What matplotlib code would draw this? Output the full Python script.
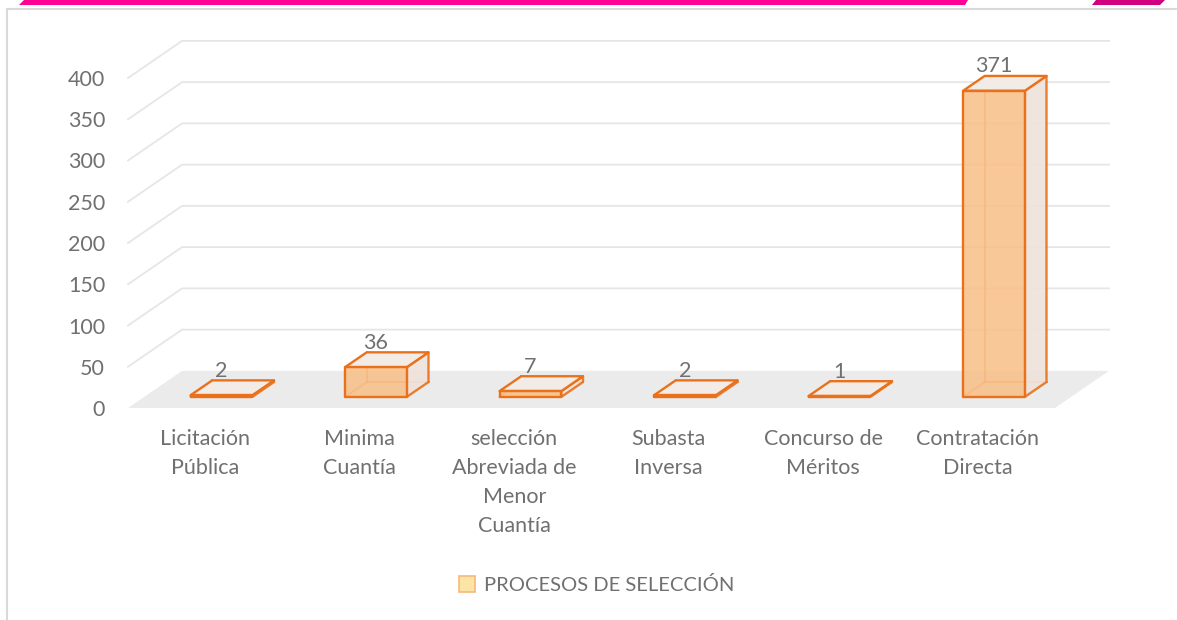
import matplotlib
matplotlib.use('Agg')
import matplotlib.pyplot as plt
from matplotlib.patches import Polygon, Patch

plt.rcParams['font.family'] = ['Lato', 'DejaVu Sans']

# Datos
categorias = ['Licitación\nPública', 'Minima\nCuantía', 'selección\nAbreviada de\nMenor\nCuantía',
              'Subasta\nInversa', 'Concurso de\nMéritos', 'Contratación\nDirecta']
procesos = [2, 36, 7, 2, 1, 371]
yticks = [0, 50, 100, 150, 200, 250, 300, 350, 400]
serie = 'PROCESOS DE SELECCIÓN'

# Estilo
texto = '#707070'
borde = '#E9711C'
frente = '#F9BF86'
lado = '#EFE3DB'
tapa = '#F3EBE6'
piso = '#EBEBEB'
rejilla = '#E6E6E6'

# Proyeccion oblicua: desplazamiento de profundidad en unidades de datos
DX, DY = 0.35, 45.0
Z0, Z1 = 0.3, 0.7
ANCHO = 0.4


def P(x, y, z):
    return (x + DX * z, y + DY * z)


fig = plt.figure(figsize=(11.77, 6.20), dpi=100)
W, H = 1177, 620

# Marco de la pagina
fig.add_artist(plt.Line2D([7 / W, 7 / W], [0, 1 - 9 / H], color='#D9D9D9', lw=1.5))
fig.add_artist(plt.Line2D([7 / W, 1], [1 - 9 / H, 1 - 9 / H], color='#D9D9D9', lw=1.5))
fig.add_artist(Polygon([(19 / W, 1 - 5 / H), (24 / W, 1), (968 / W, 1), (965 / W, 1 - 5 / H)],
                       closed=True, transform=fig.transFigure, color='#FF0096', lw=0))
fig.add_artist(Polygon([(1092 / W, 1 - 5 / H), (1096 / W, 1), (1165 / W, 1), (1160 / W, 1 - 5 / H)],
                       closed=True, transform=fig.transFigure, color='#D1007E', lw=0))

xmax, ymax = 6.4, 460
ax = fig.add_axes([128 / W, (620 - 408) / H, 154.5 * xmax / W, 0.825 * ymax / H])
ax.set_xlim(0, xmax)
ax.set_ylim(0, ymax)
for s in ax.spines.values():
    s.set_visible(False)

n = len(categorias)

# Piso
ax.add_patch(Polygon([P(0, 0, 0), P(n, 0, 0), P(n, 0, 1), P(0, 0, 1)], closed=True,
                     facecolor=piso, edgecolor='none', zorder=1, clip_on=False))

# Lineas de rejilla en pared lateral y fondo
for v in yticks[1:]:
    pts = [P(0, v, 0), P(0, v, 1), P(n, v, 1)]
    ax.plot([p[0] for p in pts], [p[1] for p in pts], color=rejilla, lw=1.3,
            zorder=0.5, clip_on=False)

# Barras
for i, v in enumerate(procesos):
    x0 = i + 0.5 - ANCHO / 2
    x1 = i + 0.5 + ANCHO / 2

    ocultas = [(P(x0, 0, Z1), P(x0, v, Z1)), (P(x0, 0, Z1), P(x1, 0, Z1)),
               (P(x0, 0, Z0), P(x0, 0, Z1))]
    for a, b in ocultas:
        ax.plot([a[0], b[0]], [a[1], b[1]], color=borde, lw=1.4, alpha=0.6,
                zorder=2, clip_on=False)

    cara_lado = [P(x1, 0, Z0), P(x1, 0, Z1), P(x1, v, Z1), P(x1, v, Z0)]
    cara_tapa = [P(x0, v, Z0), P(x1, v, Z0), P(x1, v, Z1), P(x0, v, Z1)]
    cara_frente = [P(x0, 0, Z0), P(x1, 0, Z0), P(x1, v, Z0), P(x0, v, Z0)]
    ax.add_patch(Polygon(cara_lado, closed=True, facecolor=lado, edgecolor=borde,
                         lw=1.7, alpha=0.9, zorder=3, clip_on=False, joinstyle='round'))
    ax.add_patch(Polygon(cara_tapa, closed=True, facecolor=tapa, edgecolor=borde,
                         lw=1.7, zorder=3, clip_on=False, joinstyle='round'))
    ax.add_patch(Polygon(cara_frente, closed=True, facecolor=frente, edgecolor='none',
                         alpha=0.85, zorder=4, clip_on=False))
    ax.add_patch(Polygon(cara_frente, closed=True, facecolor='none', edgecolor=borde,
                         lw=1.7, zorder=5, clip_on=False, joinstyle='round'))

    xl, _ = P(i + 0.5, v, Z0)
    _, yl = P(i + 0.5, v, Z1)
    ax.annotate(str(v), (xl, yl), xytext=(0, 2.5), textcoords='offset points',
                ha='center', va='baseline', fontsize=15.5, color=texto,
                zorder=6, annotation_clip=False)

# Ejes
ax.set_yticks(yticks)
ax.set_yticklabels([str(t) for t in yticks], fontsize=15.5, color=texto)
ax.set_xticks([i + 0.5 for i in range(n)])
ax.set_xticklabels(categorias, fontsize=15.5, color=texto, linespacing=1.57)
ax.tick_params(axis='y', length=0, pad=16.5)
ax.tick_params(axis='x', length=0, pad=15)

# Leyenda
fig.legend(handles=[Patch(facecolor='#FCE3A6', edgecolor='#F6B97C', lw=1.2, label=serie)],
           loc='center', bbox_to_anchor=(0.507, 1 - 585 / H), frameon=False,
           fontsize=14.5, labelcolor=texto, handlelength=0.8, handleheight=0.8,
           handletextpad=0.45)

fig.savefig('out.png', dpi=100)
